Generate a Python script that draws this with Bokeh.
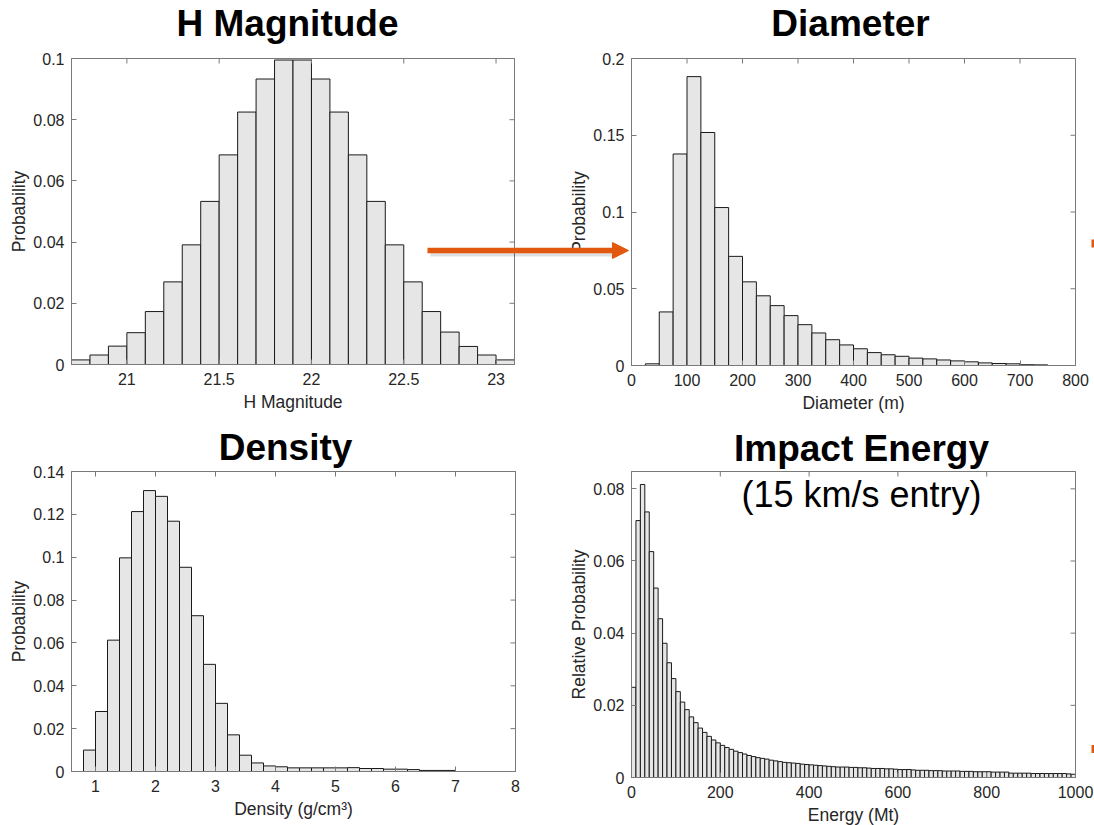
import numpy as np
from bokeh.plotting import figure
from bokeh.models import Range1d, FixedTicker, LinearAxis, Arrow, NormalHead, Label
from bokeh.embed import file_html
from bokeh.resources import INLINE

# ---------------- data ----------------
# H magnitude: probability per 0.1-mag bin, first bin starts at 20.7
h_bin_start = 20.7
h_bin_width = 0.1
h_prob = [0.0015, 0.0031, 0.0060, 0.0104, 0.0173, 0.0270, 0.0391, 0.0533,
          0.0685, 0.0825, 0.0933, 0.0995, 0.0995, 0.0933, 0.0825, 0.0685,
          0.0533, 0.0391, 0.0270, 0.0173, 0.0106, 0.0059, 0.0031, 0.0015]
h_xticks = [21, 21.5, 22, 22.5, 23]
h_xticklabels = ["21", "21.5", "22", "22.5", "23"]
h_yticks = [0, 0.02, 0.04, 0.06, 0.08, 0.1]
h_yticklabels = ["0", "0.02", "0.04", "0.06", "0.08", "0.1"]

# Diameter: probability per 25 m bin, first bin starts at 25 m
d_bin_start = 25
d_bin_width = 25
d_prob = [0.0011, 0.0349, 0.1378, 0.1882, 0.1518, 0.1029, 0.0711, 0.0545,
          0.0454, 0.0390, 0.0325, 0.0266, 0.0212, 0.0168, 0.0134, 0.0109,
          0.0084, 0.0070, 0.0060, 0.0048, 0.0043, 0.0036, 0.0030, 0.0024,
          0.0017, 0.0013, 0.0011, 0.0005, 0.0004]
d_xticks = [0, 100, 200, 300, 400, 500, 600, 700, 800]
d_xticklabels = ["0", "100", "200", "300", "400", "500", "600", "700", "800"]
d_yticks = [0, 0.05, 0.1, 0.15, 0.2]
d_yticklabels = ["0", "0.05", "0.1", "0.15", "0.2"]

# Density: probability per 0.2 g/cm3 bin, first bin starts at 0.8
rho_bin_start = 0.8
rho_bin_width = 0.2
rho_prob = [0.0100, 0.0280, 0.0613, 0.0997, 0.1213, 0.1311, 0.1284, 0.1168,
            0.0953, 0.0727, 0.0500, 0.0318, 0.0171, 0.0076, 0.0040, 0.0026,
            0.0022, 0.0017, 0.0017, 0.0017, 0.0017, 0.0017, 0.0018, 0.0014,
            0.0014, 0.0011, 0.0011, 0.0009, 0.0005, 0.0005, 0.0005]
rho_xticks = [1, 2, 3, 4, 5, 6, 7, 8]
rho_xticklabels = ["1", "2", "3", "4", "5", "6", "7", "8"]
rho_yticks = [0, 0.02, 0.04, 0.06, 0.08, 0.1, 0.12, 0.14]
rho_yticklabels = ["0", "0.02", "0.04", "0.06", "0.08", "0.1", "0.12", "0.14"]

# Impact energy: relative probability per 10 Mt bin, 0 .. 1000 Mt
e_bin_start = 0
e_bin_width = 10
e_prob = [0.0250, 0.0712, 0.0812, 0.0736, 0.0626, 0.0525, 0.0440, 0.0372, 0.0318, 0.0274,
          0.0238, 0.0209, 0.0188, 0.0168, 0.0152, 0.0137, 0.0125, 0.0114, 0.0104, 0.0096,
          0.0089, 0.0083, 0.0078, 0.0073, 0.0069, 0.0065, 0.0061, 0.0058, 0.0055, 0.0053,
          0.0051, 0.0048, 0.0046, 0.0044, 0.0042, 0.0041, 0.0040, 0.0039, 0.0037, 0.0036,
          0.0035, 0.0034, 0.0033, 0.0032, 0.0031, 0.0030, 0.0029, 0.0029, 0.0029, 0.0028,
          0.0028, 0.0027, 0.0027, 0.0026, 0.0025, 0.0025, 0.0025, 0.0024, 0.0024, 0.0023,
          0.0022, 0.0022, 0.0022, 0.0021, 0.0020, 0.0020, 0.0020, 0.0019, 0.0019, 0.0019,
          0.0018, 0.0018, 0.0018, 0.0018, 0.0017, 0.0017, 0.0017, 0.0016, 0.0016, 0.0016,
          0.0016, 0.0015, 0.0015, 0.0015, 0.0015, 0.0012, 0.0012, 0.0012, 0.0012, 0.0012,
          0.0011, 0.0011, 0.0011, 0.0011, 0.0011, 0.0011, 0.0011, 0.0011, 0.0010, 0.0009]
e_xticks = [0, 200, 400, 600, 800, 1000]
e_xticklabels = ["0", "200", "400", "600", "800", "1000"]
e_yticks = [0, 0.02, 0.04, 0.06, 0.08]
e_yticklabels = ["0", "0.02", "0.04", "0.06", "0.08"]

# ---------------- styling ----------------
FONT = "Liberation Sans"
AXIS_COLOR = "#7a7a7a"
TEXT_COLOR = "#262626"
BAR_FILL = "#e6e6e6"
BAR_LINE = "#1a1a1a"
ARROW_COLOR = "#e2580f"
TICK_SIZE = "16px"
LABEL_SIZE = "17.5px"
TITLE_SIZE = "37px"
SUBTITLE_SIZE = "36px"
TICK_LEN = 5          # inward tick length in pixels
BASELINE_SHIFT = 11   # label baseline correction in pixels

PAGE_W, PAGE_H = 1094, 825

# The page is one canvas in pixel coordinates (y grows downward); every
# histogram gets its own pair of ranges mapped onto its box on the page.
p = figure(width=PAGE_W, height=PAGE_H, x_range=Range1d(0, PAGE_W), y_range=Range1d(PAGE_H, 0),
           output_backend="svg", toolbar_location=None, tools="",
           x_axis_location=None, y_axis_location=None, min_border=0)
p.grid.visible = False
p.outline_line_color = None
p.background_fill_color = "white"
p.border_fill_color = "white"

x_ranges, y_ranges = {}, {}


def style_axis(ax, ticks, labels):
    ax.ticker = FixedTicker(ticks=ticks)
    ax.major_label_overrides = {t: s for t, s in zip(ticks, labels)}
    ax.axis_line_color = AXIS_COLOR
    ax.major_tick_line_color = AXIS_COLOR
    ax.major_tick_in = TICK_LEN
    ax.major_tick_out = 0
    ax.minor_tick_line_color = None
    ax.major_label_text_font = FONT
    ax.major_label_text_font_size = TICK_SIZE
    ax.major_label_text_color = TEXT_COLOR
    ax.axis_label_text_font = FONT
    ax.axis_label_text_font_style = "normal"
    ax.axis_label_text_font_size = LABEL_SIZE
    ax.axis_label_text_color = TEXT_COLOR


def histogram_panel(name, frame, x_range, y_range, bin_start, bin_width, probs,
                    xticks, xlabels, yticks, ylabels, xtitle, ytitle):
    fl, ft, fr, fb = frame
    sx = (x_range[1] - x_range[0]) / (fr - fl)
    sy = (y_range[1] - y_range[0]) / (fb - ft)
    xn, yn = name + "_x", name + "_y"
    x_ranges[xn] = Range1d(x_range[0] - fl * sx, x_range[0] + (PAGE_W - fl) * sx)
    y_ranges[yn] = Range1d(y_range[0] - (PAGE_H - fb) * sy, y_range[0] + fb * sy)
    kw = dict(x_range_name=xn, y_range_name=yn)

    edges = bin_start + bin_width * np.arange(len(probs) + 1)
    p.quad(left=edges[:-1], right=edges[1:], bottom=y_range[0], top=probs,
           fill_color=BAR_FILL, line_color=BAR_LINE, line_width=1, **kw)

    # box around the axes
    p.quad(left=[x_range[0]], right=[x_range[1]], bottom=[y_range[0]], top=[y_range[1]],
           fill_color=None, line_color=AXIS_COLOR, line_width=1, **kw)

    # inward ticks along the top and right edges
    dx, dy = TICK_LEN * sx, TICK_LEN * sy
    p.segment(x0=xticks, y0=[y_range[1]] * len(xticks), x1=xticks,
              y1=[y_range[1] - dy] * len(xticks), line_color=AXIS_COLOR, line_width=1, **kw)
    p.segment(x0=[x_range[1]] * len(yticks), y0=yticks, x1=[x_range[1] - dx] * len(yticks),
              y1=yticks, line_color=AXIS_COLOR, line_width=1, **kw)

    xa = LinearAxis(fixed_location=y_range[0], bounds=x_range, axis_label=xtitle, **kw)
    style_axis(xa, xticks, xlabels)
    xa.major_label_standoff = 8
    xa.axis_label_standoff = 4
    p.add_layout(xa, "below")

    ya = LinearAxis(fixed_location=x_range[0], bounds=y_range, axis_label=ytitle, **kw)
    style_axis(ya, yticks, ylabels)
    ya.major_label_standoff = 7
    ya.axis_label_standoff = 1
    p.add_layout(ya, "left")


def add_text(px, py, text, bold):
    p.add_layout(Label(x=px, y=py - BASELINE_SHIFT, text=text, text_align="center",
                       text_baseline="alphabetic", text_font=FONT,
                       text_font_size=TITLE_SIZE if bold else SUBTITLE_SIZE,
                       text_font_style="bold" if bold else "normal",
                       text_color="black"))


histogram_panel("hmag", (71, 58, 514, 364), (20.7, 23.1), (0, 0.1),
                h_bin_start, h_bin_width, h_prob, h_xticks, h_xticklabels,
                h_yticks, h_yticklabels, "H Magnitude", "Probability")
histogram_panel("diam", (631, 58, 1075, 365), (0, 800), (0, 0.2),
                d_bin_start, d_bin_width, d_prob, d_xticks, d_xticklabels,
                d_yticks, d_yticklabels, "Diameter (m)", "Probability")
histogram_panel("rho", (71, 471, 515, 771), (0.6, 8), (0, 0.14),
                rho_bin_start, rho_bin_width, rho_prob, rho_xticks, rho_xticklabels,
                rho_yticks, rho_yticklabels, "Density (g/cm\u00b3)", "Probability")
histogram_panel("energy", (631, 471, 1075, 777), (0, 1000), (0, 0.0848),
                e_bin_start, e_bin_width, e_prob, e_xticks, e_xticklabels,
                e_yticks, e_yticklabels, "Energy (Mt)", "Relative Probability")

p.extra_x_ranges = x_ranges
p.extra_y_ranges = y_ranges

# panel headings
add_text(287, 34, "H Magnitude", True)
add_text(850, 34, "Diameter", True)
add_text(285, 458, "Density", True)
add_text(861, 459, "Impact Energy", True)
add_text(861, 505, "(15 km/s entry)", False)

# orange arrow from the H magnitude panel to the diameter panel, with a soft shadow
p.segment(x0=[430], y0=[253.5], x1=[612], y1=[253.5], line_color="black",
          line_alpha=0.12, line_width=5)
p.add_layout(Arrow(start=None,
                   end=NormalHead(size=16, fill_color=ARROW_COLOR, line_color=ARROW_COLOR,
                                  line_width=1),
                   x_start=427, y_start=250, x_end=628, y_end=250,
                   line_color=ARROW_COLOR, line_width=5.5))

# arrow stubs cut off at the right edge of the page
p.segment(x0=[1091, 1091], y0=[243, 748.5], x1=[1096, 1096], y1=[243, 748.5],
          line_color=ARROW_COLOR, line_width=8)

open("out.html", "w").write(file_html(p, INLINE))
